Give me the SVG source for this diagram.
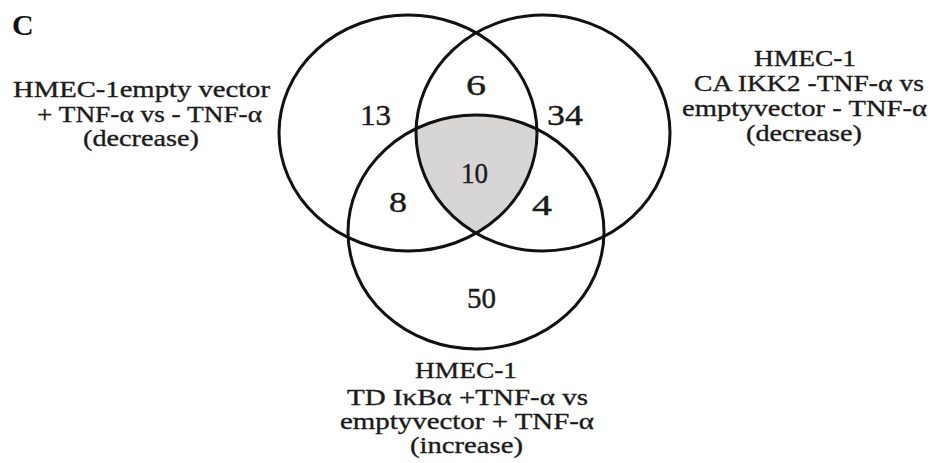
<svg xmlns="http://www.w3.org/2000/svg" width="932" height="463" viewBox="0 0 932 463">
  <style>
    .ring { fill: none; stroke: #111; stroke-width: 3; }
    .lbl { font-family: "Liberation Serif", "Times New Roman", serif; font-size: 24px; fill: #1a1a1a; stroke: #1a1a1a; stroke-width: 0.35; }
    .num { font-family: "Liberation Serif", "Times New Roman", serif; font-size: 30px; fill: #1a1a1a; stroke: #1a1a1a; stroke-width: 0.4; }
    .panel { font-family: "Liberation Serif", "Times New Roman", serif; font-size: 30px; font-weight: bold; fill: #111; }
  </style>
  <defs>
    <clipPath id="clipL"><ellipse cx="408" cy="133" rx="129" ry="118"/></clipPath>
    <clipPath id="clipR"><ellipse cx="543" cy="133" rx="127" ry="118"/></clipPath>
  </defs>
  <rect width="932" height="463" fill="#ffffff"/>
  <text class="panel" x="12" y="35">C</text>

  <g id="shade" clip-path="url(#clipR)">
    <g clip-path="url(#clipL)">
      <ellipse cx="476" cy="232" rx="128" ry="117" fill="#d8d6d4"/>
    </g>
  </g>

  <g id="set-left">
    <ellipse class="ring" cx="408" cy="133" rx="129" ry="118"/>
    <text class="lbl" x="13" y="97" textLength="257" lengthAdjust="spacingAndGlyphs">HMEC-1empty vector</text>
    <text class="lbl" x="37" y="122" textLength="225" lengthAdjust="spacingAndGlyphs">+ TNF-α vs - TNF-α</text>
    <text class="lbl" x="83" y="146" textLength="116" lengthAdjust="spacingAndGlyphs">(decrease)</text>
  </g>

  <g id="set-right">
    <ellipse class="ring" cx="543" cy="133" rx="127" ry="118"/>
    <text class="lbl" x="754" y="66" textLength="102" lengthAdjust="spacingAndGlyphs">HMEC-1</text>
    <text class="lbl" x="694" y="91" textLength="230" lengthAdjust="spacingAndGlyphs">CA IKK2 -TNF-α vs</text>
    <text class="lbl" x="682" y="116" textLength="245" lengthAdjust="spacingAndGlyphs">emptyvector - TNF-α</text>
    <text class="lbl" x="746" y="141" textLength="116" lengthAdjust="spacingAndGlyphs">(decrease)</text>
  </g>

  <g id="set-bottom">
    <ellipse class="ring" cx="476" cy="232" rx="128" ry="117"/>
    <text class="lbl" x="415" y="378" textLength="102" lengthAdjust="spacingAndGlyphs">HMEC-1</text>
    <text class="lbl" x="347" y="405" textLength="241" lengthAdjust="spacingAndGlyphs">TD IκBα +TNF-α vs</text>
    <text class="lbl" x="340" y="429" textLength="254" lengthAdjust="spacingAndGlyphs">emptyvector + TNF-α</text>
    <text class="lbl" x="410" y="453" textLength="113" lengthAdjust="spacingAndGlyphs">(increase)</text>
  </g>

  <g id="counts">
    <text class="num" x="360" y="125" textLength="31" lengthAdjust="spacingAndGlyphs">13</text>
    <text class="num" x="466" y="95" textLength="20" lengthAdjust="spacingAndGlyphs">6</text>
    <text class="num" x="547" y="125" textLength="36" lengthAdjust="spacingAndGlyphs">34</text>
    <text class="num" x="461" y="183" textLength="27" lengthAdjust="spacingAndGlyphs">10</text>
    <text class="num" x="389" y="212" textLength="18" lengthAdjust="spacingAndGlyphs">8</text>
    <text class="num" x="532" y="215" textLength="20" lengthAdjust="spacingAndGlyphs">4</text>
    <text class="num" x="467" y="308" textLength="29" lengthAdjust="spacingAndGlyphs">50</text>
  </g>

  <g id="connectors"></g>
</svg>
